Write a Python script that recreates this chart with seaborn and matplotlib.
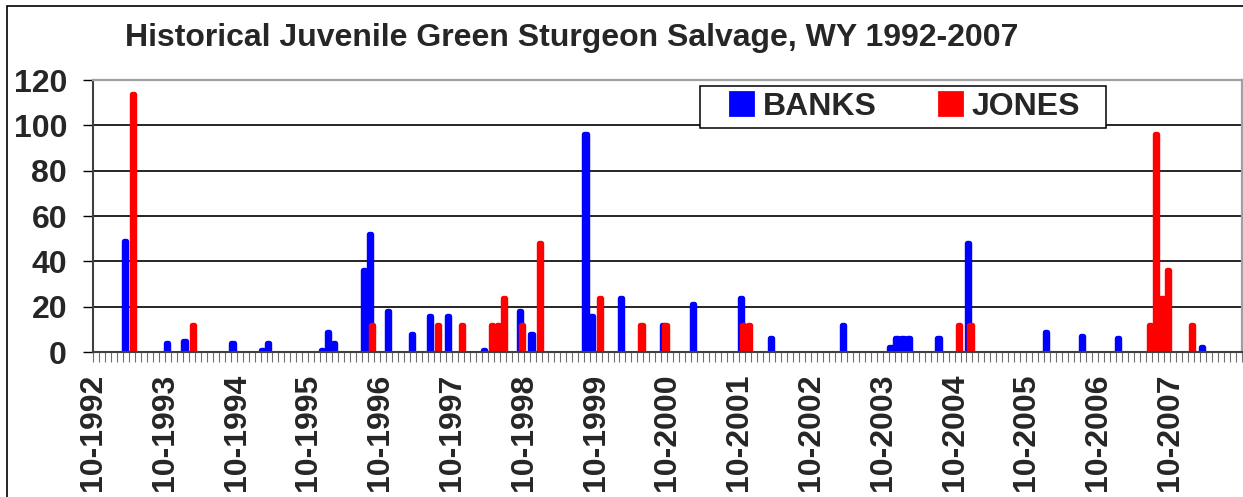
import numpy as np
import pandas as pd
import matplotlib
matplotlib.use("Agg")
import matplotlib.pyplot as plt
import seaborn as sns
from matplotlib.patches import Patch, Rectangle

# ---------------- data ----------------
title = "Historical Juvenile Green Sturgeon Salvage, WY 1992-2007"
site_names = ["BANKS", "JONES"]
site_colors = ["#0000FF", "#FF0000"]

banks_months = ["1993-03", "1993-10", "1994-01", "1994-09", "1995-02", "1995-03",
                "1995-12", "1996-01", "1996-02", "1996-07", "1996-08", "1996-11",
                "1997-03", "1997-06", "1997-09", "1998-03", "1998-09", "1998-11",
                "1999-08", "1999-09", "2000-02", "2000-09", "2001-02", "2001-10",
                "2002-03", "2003-03", "2003-11", "2003-12", "2004-01", "2004-02",
                "2004-07", "2004-12", "2006-01", "2006-07", "2007-01", "2008-03"]
banks_counts = [49, 4, 5, 4, 1, 4,
                1, 9, 4, 36, 52, 18,
                8, 16, 16, 1, 18, 8,
                96, 16, 24, 12, 21, 24,
                6, 12, 2, 6, 6, 6,
                6, 48, 9, 7, 6, 2]

jones_months = ["1993-04", "1994-02", "1996-08", "1997-07", "1997-11", "1998-04",
                "1998-05", "1998-06", "1998-09", "1998-12", "1999-10", "2000-05",
                "2000-09", "2001-10", "2001-11", "2004-10", "2004-12", "2007-06",
                "2007-07", "2007-08", "2007-09", "2008-01"]
jones_counts = [114, 12, 12, 12, 12, 12,
                12, 24, 12, 48, 24, 12,
                12, 12, 12, 12, 12, 12,
                96, 24, 36, 12]

first_month = "1992-10"
last_month = "2008-09"
year_labels = ["10-1992", "10-1993", "10-1994", "10-1995", "10-1996", "10-1997",
               "10-1998", "10-1999", "10-2000", "10-2001", "10-2002", "10-2003",
               "10-2004", "10-2005", "10-2006", "10-2007"]
y_ticks = [0, 20, 40, 60, 80, 100, 120]

# ---------------- style ----------------
sns.set_theme(style="white")
plt.rcParams["font.family"] = ["Liberation Sans", "DejaVu Sans"]
plt.rcParams["font.weight"] = "bold"
FS = 23

W, H = 1243, 497
fig = plt.figure(figsize=(W / 100, H / 100), dpi=100)
fig.patch.set_facecolor("white")
ax = fig.add_axes([93 / W, 1 - 352 / H, (1241.7 - 93) / W, (352 - 80) / H])

months_all = pd.period_range(first_month, last_month, freq="M").strftime("%Y-%m").tolist()

df = pd.concat([
    pd.DataFrame({"month": banks_months, "count": banks_counts, "site": site_names[0]}),
    pd.DataFrame({"month": jones_months, "count": jones_counts, "site": site_names[1]}),
], ignore_index=True)

palette = dict(zip(site_names, site_colors))
sns.barplot(data=df, x="month", y="count", hue="site", order=months_all,
            hue_order=site_names, palette=palette, width=0.75, dodge=True,
            errorbar=None, saturation=1, legend=False, ax=ax)

for p in ax.patches:
    fc = p.get_facecolor()
    p.set_edgecolor(fc)
    p.set_linewidth(3.9)
    p.set_joinstyle("round")

n = len(months_all)
ax.set_xlim(-0.5, n - 0.5)
ax.set_ylim(y_ticks[0], y_ticks[-1])
ax.set_xlabel("")
ax.set_ylabel("")

major = [i - 0.5 for i in range(0, 12 * len(year_labels), 12)]
minor = [i - 0.5 for i in range(0, n + 1)]
ax.set_xticks(major)
ax.set_xticklabels(year_labels, rotation=90, fontsize=FS, fontweight="bold")
ax.set_xticks(minor, minor=True)
ax.tick_params(axis="x", which="both", direction="out", length=7.2, width=0.8,
               color="#707070", bottom=True, pad=8.5)

ax.set_yticks(y_ticks)
ax.set_yticklabels([str(v) for v in y_ticks], fontsize=FS, fontweight="bold")
ax.tick_params(axis="y", direction="out", length=7.2, width=1.0, color="black",
               left=True, pad=11.5)

ax.yaxis.grid(True, color="black", linewidth=1.2)
ax.xaxis.grid(False)
ax.set_axisbelow(True)

for side in ["left", "bottom"]:
    ax.spines[side].set_color("#404040")
    ax.spines[side].set_linewidth(1.5)
for side in ["top", "right"]:
    ax.spines[side].set_color("#A0A0A0")
    ax.spines[side].set_linewidth(1.6)

fig.text(125 / W, 1 - 46 / H, title, ha="left", va="baseline",
         fontsize=FS, fontweight="bold")

# legend box
fig.add_artist(Rectangle((700 / W, 1 - 128 / H), (1106 - 700) / W, (128 - 86) / H,
                         transform=fig.transFigure, facecolor="white",
                         edgecolor="black", linewidth=1.1, zorder=3))
handles = [Patch(facecolor=c, edgecolor=c, linewidth=2, joinstyle="round") for c in site_colors]
fig.legend(handles, site_names, ncol=2, frameon=False, loc="center left",
           bbox_to_anchor=(730 / W, 1 - 107 / H), fontsize=FS,
           handlelength=0.72, handleheight=0.72, handletextpad=0.3,
           columnspacing=1.95, borderpad=0, borderaxespad=0)

# outer chart border
fig.add_artist(Rectangle((7 / W, -0.2), 1.2, 1.2 - 6 / H, transform=fig.transFigure,
                         fill=False, edgecolor="black", linewidth=1.2, zorder=4))

fig.savefig("out.png", dpi=100, facecolor="white")
